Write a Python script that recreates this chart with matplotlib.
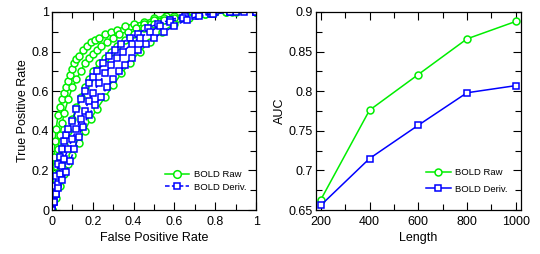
import numpy as np
import matplotlib as mpl
mpl.use("Agg")
import matplotlib.pyplot as plt
from matplotlib.ticker import MultipleLocator

plt.rcParams['font.family'] = ['Liberation Sans', 'DejaVu Sans']

## ROC curves, BOLD raw (green circles)
raw_fpr = [
    [0, 0.005, 0.01, 0.015, 0.02, 0.03, 0.04, 0.05, 0.06, 0.07, 0.08, 0.09, 0.10, 0.11, 0.12, 0.13, 0.15,
     0.17, 0.19, 0.21, 0.23, 0.26, 0.29, 0.32, 0.36, 0.40, 0.45, 0.50, 0.56, 0.62, 0.70, 0.78, 0.88, 1.0],
    [0, 0.01, 0.02, 0.03, 0.04, 0.05, 0.06, 0.08, 0.10, 0.12, 0.14, 0.16, 0.18, 0.20, 0.22, 0.24, 0.27,
     0.30, 0.33, 0.37, 0.41, 0.45, 0.50, 0.55, 0.60, 0.67, 0.75, 0.85, 1.0],
    [0, 0.01, 0.02, 0.04, 0.06, 0.08, 0.10, 0.12, 0.14, 0.16, 0.18, 0.20, 0.23, 0.26, 0.29, 0.32, 0.36,
     0.40, 0.45, 0.50, 0.55, 0.60, 0.66, 0.72, 0.80, 0.90, 1.0],
    [0, 0.02, 0.04, 0.06, 0.08, 0.10, 0.13, 0.16, 0.19, 0.22, 0.26, 0.30, 0.34, 0.38, 0.43, 0.48, 0.54,
     0.60, 0.67, 0.75, 0.85, 1.0],
]
raw_tpr = [
    [0, 0.14, 0.27, 0.35, 0.41, 0.48, 0.52, 0.56, 0.59, 0.62, 0.65, 0.68, 0.71, 0.74, 0.76, 0.78, 0.81,
     0.83, 0.85, 0.86, 0.87, 0.89, 0.90, 0.91, 0.93, 0.94, 0.95, 0.97, 0.98, 0.99, 0.99, 1.0, 1.0, 1.0],
    [0, 0.12, 0.22, 0.31, 0.38, 0.44, 0.49, 0.56, 0.62, 0.66, 0.70, 0.74, 0.77, 0.79, 0.81, 0.83, 0.85,
     0.87, 0.89, 0.90, 0.92, 0.94, 0.96, 0.97, 0.98, 0.99, 0.99, 1.0, 1.0],
    [0, 0.07, 0.15, 0.25, 0.33, 0.40, 0.46, 0.52, 0.57, 0.62, 0.66, 0.70, 0.74, 0.77, 0.80, 0.83, 0.86,
     0.89, 0.92, 0.94, 0.96, 0.97, 0.98, 0.99, 1.0, 1.0, 1.0],
    [0, 0.06, 0.12, 0.18, 0.23, 0.28, 0.34, 0.40, 0.46, 0.51, 0.57, 0.63, 0.69, 0.74, 0.80, 0.85, 0.90,
     0.94, 0.97, 0.99, 1.0, 1.0],
]

## ROC curves, BOLD derivative (blue squares)
der_fpr = [
    [0, 0.005, 0.01, 0.015, 0.02, 0.03, 0.04, 0.05, 0.06, 0.07, 0.08, 0.10, 0.12, 0.14, 0.16, 0.18, 0.20,
     0.22, 0.25, 0.28, 0.31, 0.34, 0.38, 0.42, 0.47, 0.52, 0.58, 0.65, 0.72, 0.80, 0.90, 1.0],
    [0, 0.01, 0.02, 0.03, 0.04, 0.05, 0.06, 0.08, 0.10, 0.12, 0.14, 0.16, 0.18, 0.20, 0.23, 0.26, 0.29,
     0.32, 0.35, 0.39, 0.43, 0.48, 0.53, 0.58, 0.64, 0.70, 0.78, 0.87, 1.0],
    [0, 0.01, 0.02, 0.03, 0.05, 0.07, 0.09, 0.11, 0.13, 0.15, 0.18, 0.21, 0.24, 0.27, 0.30, 0.33, 0.36,
     0.39, 0.42, 0.46, 0.50, 0.55, 0.60, 0.66, 0.72, 0.79, 0.87, 0.94, 1.0],
]
der_tpr = [
    [0, 0.04, 0.08, 0.12, 0.17, 0.23, 0.27, 0.31, 0.35, 0.38, 0.41, 0.45, 0.51, 0.56, 0.60, 0.64, 0.67,
     0.70, 0.74, 0.78, 0.81, 0.84, 0.87, 0.89, 0.92, 0.94, 0.96, 0.98, 0.99, 1.0, 1.0, 1.0],
    [0, 0.04, 0.08, 0.13, 0.18, 0.22, 0.26, 0.31, 0.36, 0.41, 0.46, 0.50, 0.55, 0.59, 0.64, 0.69, 0.73,
     0.77, 0.80, 0.84, 0.87, 0.90, 0.93, 0.95, 0.97, 0.98, 0.99, 1.0, 1.0],
    [0, 0.04, 0.08, 0.11, 0.15, 0.19, 0.25, 0.31, 0.37, 0.42, 0.48, 0.53, 0.57, 0.62, 0.66, 0.70, 0.73,
     0.77, 0.81, 0.84, 0.87, 0.90, 0.93, 0.96, 0.98, 0.99, 1.0, 1.0, 1.0],
]

## AUC vs length
length = [200, 400, 600, 800, 1000]
auc_raw = [0.663, 0.776, 0.821, 0.866, 0.888]
auc_deriv = [0.656, 0.715, 0.757, 0.798, 0.807]

green = '#00EE00'
blue = '#0000FF'
ms_o, ms_s = 5.0, 4.6

fig = plt.figure(figsize=(5.4, 2.54), dpi=100)
ax1 = fig.add_axes([0.0963, 0.173, 0.378, 0.780])
ax2 = fig.add_axes([0.585, 0.173, 0.379, 0.780])

## left: ROC
for x, y in zip(raw_fpr, raw_tpr):
    ax1.plot(x, y, color=green, lw=1.1, marker='o', ms=ms_o, mfc='white', mec=green, mew=1.1)
for x, y in zip(der_fpr, der_tpr):
    ax1.plot(x, y, color=blue, lw=1.1, ls=(0, (3, 1.5)), marker='s', ms=ms_s, mfc='white', mec=blue, mew=1.1)
ax1.plot([], [], color=green, lw=1.1, marker='o', ms=ms_o + 0.5, mfc='white', mec=green, mew=1.1,
         label='BOLD Raw')
ax1.plot([], [], color=blue, lw=1.1, ls=(0, (3, 1.5)), marker='s', ms=ms_s, mfc='white', mec=blue, mew=1.1,
         label='BOLD Deriv.')
ax1.set_xlim(0, 1)
ax1.set_ylim(0, 1)
ax1.xaxis.set_minor_locator(MultipleLocator(0.1))
ax1.yaxis.set_minor_locator(MultipleLocator(0.1))
ax1.set_xticks([0, 0.2, 0.4, 0.6, 0.8, 1])
ax1.set_xticklabels(['0', '0.2', '0.4', '0.6', '0.8', '1'])
ax1.set_yticks([0, 0.2, 0.4, 0.6, 0.8, 1])
ax1.set_yticklabels(['0', '0.2', '0.4', '0.6', '0.8', '1'])
ax1.set_xlabel('False Positive Rate', fontsize=9, labelpad=3)
ax1.set_ylabel('True Positive Rate', fontsize=9, labelpad=2)
ax1.legend(loc='lower right', bbox_to_anchor=(0.985, 0.06), frameon=False, fontsize=6.8,
           handlelength=2.6, handletextpad=0.5, labelspacing=0.35, borderpad=0.2)

## right: AUC
ax2.plot(length, auc_raw, color=green, lw=1.1, marker='o', ms=ms_o, mfc='white', mec=green, mew=1.1,
         label='BOLD Raw')
ax2.plot(length, auc_deriv, color=blue, lw=1.1, marker='s', ms=ms_s, mfc='white', mec=blue, mew=1.1,
         label='BOLD Deriv.')
ax2.set_xlim(180, 1020)
ax2.set_ylim(0.65, 0.9)
ax2.xaxis.set_major_locator(MultipleLocator(200))
ax2.xaxis.set_minor_locator(MultipleLocator(100))
ax2.yaxis.set_minor_locator(MultipleLocator(0.025))
ax2.set_yticks([0.65, 0.7, 0.75, 0.8, 0.85, 0.9])
ax2.set_yticklabels(['0.65', '0.7', '0.75', '0.8', '0.85', '0.9'])
ax2.set_xlabel('Length', fontsize=9, labelpad=3)
ax2.set_ylabel('AUC', fontsize=9, labelpad=2)
ax2.legend(loc='lower right', bbox_to_anchor=(0.97, 0.05), frameon=False, fontsize=6.8,
           handlelength=2.6, handletextpad=0.5, labelspacing=0.75, borderpad=0.2)

for ax in (ax1, ax2):
    ax.tick_params(which='both', direction='in', top=True, right=True, labelsize=9, width=0.8)
    ax.tick_params(axis='x', pad=4)
    ax.tick_params(axis='y', pad=2)
    ax.tick_params(which='major', length=6)
    ax.tick_params(which='minor', length=4)
    for s in ax.spines.values():
        s.set_linewidth(0.9)

fig.savefig('out.png', dpi=100)
